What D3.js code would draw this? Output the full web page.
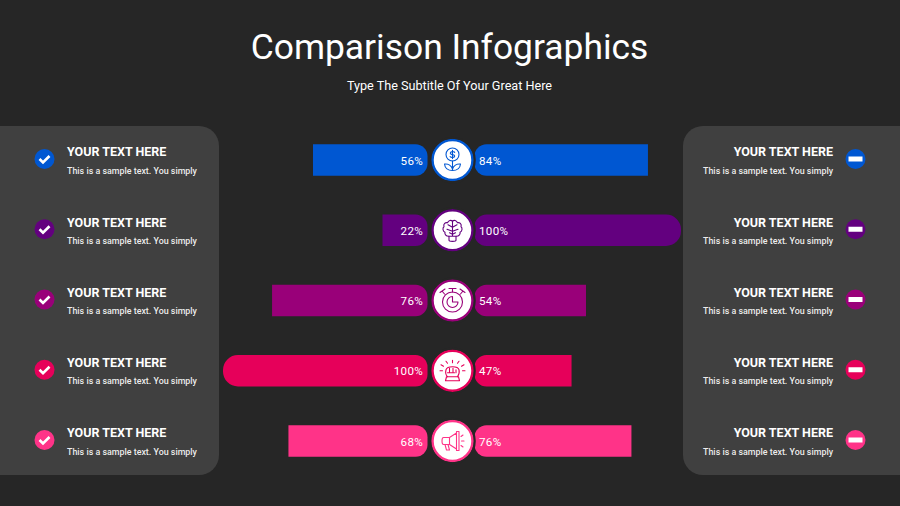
<!DOCTYPE html>
<html><head><meta charset="utf-8">
<script src="https://cdn.jsdelivr.net/npm/d3@7"></script>
<style>html,body{margin:0;background:#262626}svg{display:block}text{font-family:Roboto,sans-serif;fill:#fff}</style>
</head><body><svg id="c" width="900" height="506"></svg>
<script>
const title = "Comparison Infographics";
const subtitle = "Type The Subtitle Of Your Great Here";
const rows = ["a","b","c","d","e"];
const leftValues = [56,22,76,100,68];
const rightValues = [84,100,54,47,76];
const colors = ["#0057d2","#63007f","#990079","#e6005a","#ff3388"];
const icons = ["plant","brain","watch","idea","horn"];
const heading = "YOUR TEXT HERE";
const body = "This is a sample text. You simply";

const svg = d3.select("#c");
const bg = "#262626", panel = "#404040";
const yS = d3.scalePoint().domain(rows).range([160,441]);
const xL = d3.scaleLinear().domain([0,100]).range([427.5,223]);
const xR = d3.scaleLinear().domain([0,100]).range([474.5,681]);
const cx = 452.5, bh = 31.5;

svg.append("rect").attr("width",900).attr("height",506).attr("fill",bg);
svg.append("text").attr("x",449.5).attr("y",59).attr("text-anchor","middle").attr("font-size",35.4).text(title);
svg.append("text").attr("x",449.5).attr("y",90).attr("text-anchor","middle").attr("font-size",12.65).text(subtitle);

// panels
svg.append("rect").attr("x",-30).attr("y",126).attr("width",249).attr("height",349).attr("rx",20).attr("fill",panel);
svg.append("rect").attr("x",683).attr("y",126).attr("width",250).attr("height",349).attr("rx",20).attr("fill",panel);

function barPath(x0,x1,y,h,rInner,rOuter){
  const s = x1>x0?1:-1, sw = s>0?1:0, t=y-h/2, b=y+h/2;
  return `M${x0+s*rInner},${t}L${x1-s*rOuter},${t}`+
    (rOuter?`A${rOuter},${rOuter} 0 0 ${sw} ${x1},${t+rOuter}L${x1},${b-rOuter}A${rOuter},${rOuter} 0 0 ${sw} ${x1-s*rOuter},${b}`:`L${x1},${b}`)+
    `L${x0+s*rInner},${b}A${rInner},${rInner} 0 0 ${sw} ${x0},${b-rInner}L${x0},${t+rInner}A${rInner},${rInner} 0 0 ${sw} ${x0+s*rInner},${t}Z`;
}

const iconDraw = {
  plant(g){
    g.append("circle").attr("cx",0).attr("cy",-5.5).attr("r",6.5);
    g.append("path").attr("d","M2.2,-7.6C1.4,-8.8 -2.2,-8.8 -2.2,-6.8C-2.2,-4.8 2.2,-6 2.2,-4C2.2,-2.2 -1.4,-2.2 -2.4,-3.3M0,-9.6V-1.4");
    g.append("path").attr("d","M0,1V10.5M0,10.5C-4,10.5 -7.5,8.5 -8,4C-4,3.5 -1,6 0,9M0,10.5C4,10.5 7.5,8.5 8,4C4,3.5 1,6 0,9");
  },
  brain(g){
    g.append("path").attr("d","M-3.5,6C-7,6 -8,3.5 -7.5,2C-10,1 -10,-2.5 -8.5,-3.5C-9.5,-6.5 -7,-8 -5,-7.5C-4,-10 -1.5,-10.5 0,-9C1.5,-10.5 4,-10 5,-7.5C7,-8 9.5,-6.5 8.5,-3.5C10,-2.5 10,1 7.5,2C8,3.5 7,6 3.5,6V10C3.5,11.5 -3.5,11.5 -3.5,10Z");
    g.append("path").attr("d","M0,-9V6M-3.5,6H3.5M0,-3L-4.5,-5.5M0,1L-5.5,-1M0,-3L4.5,-5.5M0,1L5.5,-1M0,4L-3,2.5M0,4L3,2.5");
  },
  watch(g){
    g.append("circle").attr("cx",0).attr("cy",1.5).attr("r",10);
    g.append("path").attr("d","M0,-4A5.5,5.5 0 1 0 5.5,1.5H0Z");
    g.append("path").attr("d","M0,-8.5V-12M-3.5,-12H3.5M8,-6.5L10.5,-9.5M7.5,-11.5L12.5,-8M-8,-6.5L-10.5,-9.5M-7.5,-11.5L-12.5,-8");
  },
  idea(g){
    g.append("path").attr("d","M-5,6C-7,4 -7,1 -6.5,-1C-6,-3 -3,-4 0,-4C3,-4 6,-3 6.5,-1C7,1 6.5,4 5,6");
    g.append("path").attr("d","M-6,6H6L7,10H-7ZM-3,-2.5V1M.5,-2.5V1M3.5,-1V2M-5,2H2");
    g.append("path").attr("d","M0,-8V-10.5M-5,-7.5L-6.5,-9.5M5,-7.5L6.5,-9.5M-9,-4.5L-11.5,-6M9,-4.5L11.5,-6M-10,0H-12.5M10,0H12.5");
  },
  horn(g){
    g.append("path").attr("d","M-9,-3.5H-3V3.5H-9C-11,3.5 -11,-3.5 -9,-3.5ZM-3,-3.5L4,-8V8L-3,3.5M4,-9.5H6.5V9.5H4ZM-7.5,3.5L-6,9H-3L-4.5,3.5");
    g.append("path").attr("d","M9,0H11.5M8.5,-4.5L10.5,-6M8.5,4.5L10.5,6");
  }
};

rows.forEach((k,i)=>{
  const y = yS(k), c = colors[i];
  const g = svg.append("g");
  const lv = leftValues[i], rv = rightValues[i];
  g.append("path").attr("d",barPath(xL(0),xL(lv),y,bh,12,lv===100?15:0)).attr("fill",c);
  g.append("path").attr("d",barPath(xR(0),xR(rv),y,bh,12,rv===100?15:0)).attr("fill",c);
  g.append("circle").attr("cx",cx).attr("cy",y).attr("r",20).attr("fill","#fff").attr("stroke",c).attr("stroke-width",2.5);
  g.append("circle").attr("cx",cx).attr("cy",y).attr("r",22.3).attr("fill","none").attr("stroke",bg).attr("stroke-width",2);
  const ic = g.append("g").attr("transform",`translate(${cx},${y})`).attr("fill","none").attr("stroke",c).attr("stroke-width",1.1).attr("stroke-linejoin","round").attr("stroke-linecap","round");
  iconDraw[icons[i]](ic);
  g.append("text").attr("x",423).attr("y",y+4.5).attr("text-anchor","end").attr("font-size",11.6).attr("letter-spacing",0.3).text(lv+"%");
  g.append("text").attr("x",479).attr("y",y+4.5).attr("font-size",11.6).attr("letter-spacing",0.3).text(rv+"%");

  // left side
  g.append("text").attr("x",67).attr("y",y-3.7).attr("font-size",12.5).attr("font-weight",700).text(heading);
  g.append("text").attr("x",67).attr("y",y+13.5).attr("font-size",8.9).attr("font-weight",500).attr("fill-opacity",.92).text(body);
  g.append("circle").attr("cx",44.5).attr("cy",y-1).attr("r",10).attr("fill",c);
  g.append("path").attr("d",`M${39.5},${y-1}l3.5,3.5l6.5,-6.5`).attr("fill","none").attr("stroke","#fff").attr("stroke-width",2.6);
  // right side
  g.append("text").attr("x",833).attr("y",y-3.7).attr("text-anchor","end").attr("font-size",12.5).attr("font-weight",700).text(heading);
  g.append("text").attr("x",833).attr("y",y+13.5).attr("text-anchor","end").attr("font-size",8.9).attr("font-weight",500).attr("fill-opacity",.92).text(body);
  g.append("circle").attr("cx",855.5).attr("cy",y-1).attr("r",10).attr("fill",c);
  g.append("rect").attr("x",848.5).attr("y",y-3.5).attr("width",14).attr("height",5).attr("fill","#fff");
});
</script></body></html>
